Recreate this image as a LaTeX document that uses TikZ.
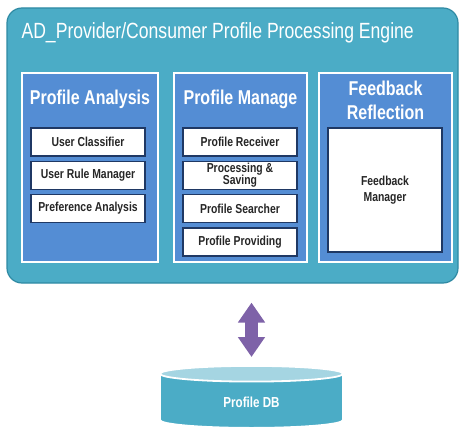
\documentclass[tikz,border=0pt]{standalone}
\usepackage{fontspec}
\setmainfont[FakeStretch=0.8]{Liberation Sans}
\usetikzlibrary{positioning,arrows.meta,shapes.geometric}

\definecolor{engineteal}{HTML}{4BACC6}
\definecolor{engineedge}{HTML}{2F8AA3}
\definecolor{panelblue}{HTML}{548DD4}
\definecolor{itemedge}{HTML}{1F3864}
\definecolor{linkpurple}{HTML}{7E62A8}
\definecolor{dbtop}{HTML}{A5D5E2}

\tikzset{
  engine/.style={draw=engineedge, line width=1.2pt, fill=engineteal, rounded corners=15pt,
    minimum width=451pt, minimum height=275pt},
  panel/.style={draw=white, line width=1.8pt, fill=panelblue, minimum height=189pt},
  paneltitle/.style={text=white, font=\fontsize{20}{24}\selectfont\bfseries, align=center},
  item/.style={draw=itemedge, line width=1.3pt, fill=white, minimum width=114pt,
    minimum height=28pt, inner sep=1pt, align=center,
    font=\fontsize{13}{12}\selectfont\bfseries, text=black!85},
}

\begin{document}
\begin{tikzpicture}[x=1pt,y=-1pt]
\useasboundingbox (0,0) rectangle (460,433);

\node[engine] (engine) at (232.5,145.5) {};
\node[anchor=west, text=white, font=\fontsize{22}{24}\selectfont] (enginetitle) at (18,33)
  {AD\_Provider/Consumer Profile Processing Engine};

% panels
\node[panel, minimum width=136pt] (analysis) at (90,167.5) {};
\node[panel, minimum width=133pt] (manage) at (240.5,167.5) {};
\node[panel, minimum width=133pt] (feedback) at (385.5,167.5) {};

\node[paneltitle] (analysistitle) at (90,99) {Profile Analysis};
\node[paneltitle] (managetitle) at (240.5,99) {Profile Manage};
\node[paneltitle] (feedbacktitle) at (385.5,100) {Feedback\\Reflection};

% profile analysis
\node[item] (classifier) at (88,142) {User Classifier};
\node[item, below=4pt of classifier] (rulemanager) {User Rule Manager};
\node[item, below=4pt of rulemanager] (preference) {Preference Analysis};

% profile manage
\node[item] (receiver) at (240,142) {Profile Receiver};
\node[item, below=4pt of receiver] (saving) {Processing \&\\[-1pt]Saving};
\node[item, below=4pt of saving] (searcher) {Profile Searcher};
\node[item, below=4pt of searcher] (providing) {Profile Providing};

% feedback reflection
\node[item, minimum height=124pt] (feedbackmanager) at (385,190) {Feedback\\[4pt]Manager};

% database
\node[cylinder, shape border rotate=90, aspect=0.25, draw=white, line width=1.8pt,
  cylinder uses custom fill, cylinder body fill=engineteal, cylinder end fill=dbtop,
  minimum width=183pt, minimum height=62pt, text=white, anchor=north,
  font=\fontsize{14.5}{16}\selectfont\bfseries] (db) at (251.5,365) {Profile DB};

\draw[linkpurple, line width=13pt,
  {Triangle[length=20pt,width=26pt]}-{Triangle[length=20pt,width=26pt]},
  shorten <=19pt, shorten >=8pt] (db.north |- engine.south) -- (db.north);
\end{tikzpicture}
\end{document}
